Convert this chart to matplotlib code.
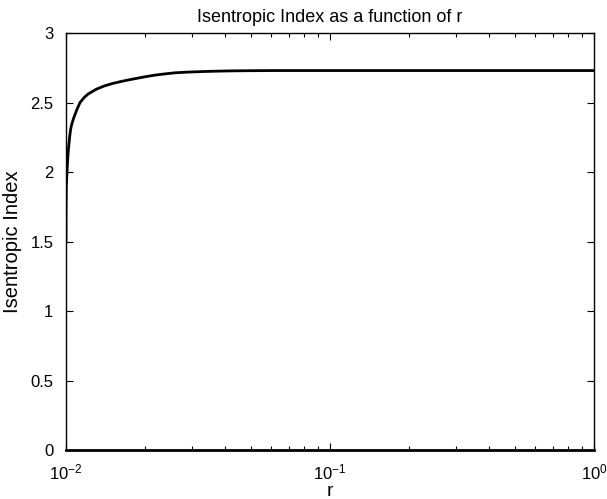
import matplotlib
matplotlib.use("Agg")
import matplotlib.pyplot as plt
from matplotlib.ticker import LogLocator, FixedLocator

plt.rcParams['font.family'] = ['Liberation Sans', 'DejaVu Sans']
plt.rcParams['mathtext.fontset'] = 'custom'
plt.rcParams['mathtext.rm'] = 'Liberation Sans'
plt.rcParams['mathtext.it'] = 'Liberation Sans'

# values
r = [0.01, 0.010005, 0.01001, 0.01003, 0.01006, 0.01009, 0.01014, 0.0102, 0.01027,
     0.01035, 0.01042, 0.0105, 0.0107, 0.0110, 0.0113, 0.0117, 0.0121, 0.0126,
     0.0130, 0.0135, 0.0140, 0.0150, 0.0163, 0.0175, 0.0190, 0.0203, 0.0217,
     0.0237, 0.0259, 0.0290, 0.0330, 0.0380, 0.0433, 0.05, 0.06, 0.08, 0.1,
     0.2, 0.5, 1.0]
gamma = [1.5, 1.65, 1.75, 1.9, 1.96, 2.0, 2.08, 2.15, 2.21,
         2.27, 2.31, 2.34, 2.39, 2.45, 2.5, 2.535, 2.56, 2.58,
         2.595, 2.608, 2.62, 2.637, 2.653, 2.665, 2.678, 2.688, 2.697,
         2.706, 2.714, 2.719, 2.723, 2.726, 2.728, 2.729, 2.73, 2.73, 2.73,
         2.73, 2.73, 2.73]
yticks = [0, 0.5, 1, 1.5, 2, 2.5, 3]
ytick_labels = ['0', '0.5', '1', '1.5', '2', '2.5', '3']

fig = plt.figure(figsize=(6.07, 4.99), dpi=100)
ax = fig.add_axes([0.1087, 0.0972, 0.8699, 0.8367])

ax.plot(r, gamma, color='black', linewidth=2)

ax.set_xscale('log')
ax.set_xlim(0.01, 1)
ax.set_ylim(0, 3)
ax.yaxis.set_major_locator(FixedLocator(yticks))
ax.set_yticklabels(ytick_labels)
ax.xaxis.set_major_locator(LogLocator(base=10, numticks=10))
ax.xaxis.set_minor_locator(LogLocator(base=10, subs=range(2, 10), numticks=20))

ax.tick_params(which='both', direction='in', top=True, right=True,
               labelsize=12, colors='black')
ax.tick_params(axis='y', which='major', length=5, width=0.8, pad=9)
ax.tick_params(axis='x', which='major', length=5, width=0.8, pad=9)
ax.tick_params(which='minor', length=3, width=0.8)
for s in ax.spines.values():
    s.set_linewidth(1.0)
ax.spines['bottom'].set_linewidth(2.0)

ax.set_title('Isentropic Index as a function of r', fontsize=13, pad=8)
ax.set_xlabel('r', fontsize=14, labelpad=0)
ax.set_ylabel('Isentropic Index', fontsize=14.5, labelpad=6)

fig.savefig('out.png', dpi=100)
